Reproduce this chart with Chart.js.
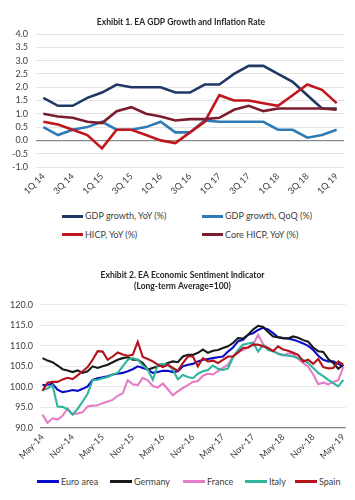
<!DOCTYPE html>
<html><head><meta charset="utf-8">
<script src="https://cdn.jsdelivr.net/npm/chart.js@4.4.1/dist/chart.umd.min.js"></script>
<style>
html,body{margin:0;padding:0;background:#fff;}
body{width:355px;height:500px;position:relative;overflow:hidden;font-family:Lato,"Open Sans",sans-serif;}
canvas{position:absolute;left:0;}
.lg{position:absolute;font-size:9px;color:#404040;white-space:nowrap;display:flex;align-items:center;height:12px;line-height:12px;}
.lg i{display:inline-block;width:21px;height:3px;margin-right:2px;}
</style></head><body>
<canvas id="c1" width="355" height="200" style="top:0"></canvas>
<canvas id="c2" width="355" height="215" style="top:255px"></canvas>
<div id="leg"></div>
<script>
// ---- Exhibit 1 data ----
const quarters = ['1Q 14','2Q 14','3Q 14','4Q 14','1Q 15','2Q 15','3Q 15','4Q 15','1Q 16','2Q 16','3Q 16','4Q 16','1Q 17','2Q 17','3Q 17','4Q 17','1Q 18','2Q 18','3Q 18','4Q 18','1Q 19'];
const gdpYoY   = [1.6,1.3,1.3,1.6,1.8,2.1,2.0,2.0,2.0,1.8,1.8,2.1,2.1,2.5,2.8,2.8,2.5,2.2,1.7,1.2,1.2];
const gdpQoQ   = [0.5,0.2,0.4,0.5,0.7,0.4,0.4,0.5,0.7,0.3,0.3,0.75,0.7,0.7,0.7,0.7,0.4,0.4,0.1,0.2,0.4];
const hicp     = [0.7,0.6,0.4,0.2,-0.3,0.4,0.4,0.2,0.0,-0.1,0.3,0.7,1.7,1.5,1.5,1.4,1.3,1.7,2.1,1.9,1.4];
const coreHicp = [1.0,0.9,0.85,0.7,0.65,1.1,1.25,1.0,0.9,0.75,0.8,0.8,0.85,1.15,1.3,1.1,1.2,1.2,1.2,1.2,1.15];
const yTicks1 = {min:-1, max:4, step:0.5};

// ---- Exhibit 2 data ----
const months = ['May-14','Jun-14','Jul-14','Aug-14','Sep-14','Oct-14','Nov-14','Dec-14',
 'Jan-15','Feb-15','Mar-15','Apr-15','May-15','Jun-15','Jul-15','Aug-15','Sep-15','Oct-15','Nov-15','Dec-15',
 'Jan-16','Feb-16','Mar-16','Apr-16','May-16','Jun-16','Jul-16','Aug-16','Sep-16','Oct-16','Nov-16','Dec-16',
 'Jan-17','Feb-17','Mar-17','Apr-17','May-17','Jun-17','Jul-17','Aug-17','Sep-17','Oct-17','Nov-17','Dec-17',
 'Jan-18','Feb-18','Mar-18','Apr-18','May-18','Jun-18','Jul-18','Aug-18','Sep-18','Oct-18','Nov-18','Dec-18',
 'Jan-19','Feb-19','Mar-19','Apr-19','May-19'];
const euroArea = [100.4,100.5,100.7,99.3,98.7,98.9,99.2,99.0,99.5,100.1,101.7,102.1,102.3,102.6,103.0,103.2,103.4,103.8,104.3,105.0,104.6,104.2,103.4,103.6,103.9,103.9,103.6,103.8,105.0,105.4,105.6,106.2,106.6,106.8,107.0,107.2,107.4,108.6,109.6,111.1,111.5,112.7,113.1,113.9,114.4,114.0,113.1,112.1,111.9,111.8,111.5,111.1,110.6,110.0,109.0,107.6,106.6,106.2,106.2,105.6,105.0];
const germany  = [107.0,106.4,106.0,105.2,104.3,104.0,103.6,104.0,103.4,103.8,105.0,104.6,105.0,105.4,106.0,106.6,107.0,107.2,106.6,106.6,105.8,104.2,104.6,105.0,105.4,105.8,106.2,106.0,107.4,107.8,107.8,108.3,109.1,108.3,108.8,109.0,109.5,109.9,110.7,111.9,111.8,112.7,114.0,114.9,114.6,113.4,112.3,112.1,111.9,111.8,112.3,112.0,111.4,111.0,109.6,108.7,108.5,106.8,105.8,104.4,105.4];
const france   = [93.2,91.2,92.3,92.0,92.9,94.7,93.3,93.5,93.8,95.2,95.4,95.5,96.0,96.4,96.8,97.8,98.4,101.6,100.6,100.4,102.2,101.6,100.2,99.8,100.8,99.4,97.9,98.9,99.7,100.4,101.2,101.4,102.7,103.2,103.0,103.8,104.6,105.4,107.4,108.4,109.0,109.6,110.3,112.7,110.4,109.4,108.8,108.2,107.6,108.2,108.0,106.8,105.8,104.9,103.0,100.6,101.0,100.6,101.2,101.6,104.8];
const italy    = [99.2,99.6,100.4,95.2,95.1,94.5,93.2,94.6,96.4,98.3,101.6,101.7,102.1,102.4,103.0,103.4,105.0,106.6,107.0,106.6,105.2,104.2,101.7,105.4,105.6,105.4,104.2,101.8,102.9,102.4,102.1,103.2,103.8,104.1,105.2,104.4,104.1,104.5,107.2,109.0,110.3,110.6,110.8,108.6,110.2,109.0,108.7,108.0,107.8,107.6,107.4,107.0,106.6,105.8,104.6,103.4,102.6,101.7,100.9,100.1,101.7];
const spain    = [99.0,101.0,101.2,101.2,101.8,102.2,101.9,102.8,103.8,104.8,106.6,108.7,108.6,106.6,107.4,108.4,107.9,107.6,107.8,111.0,107.3,106.8,106.2,105.4,104.8,105.4,104.6,103.9,105.8,107.4,107.4,105.0,107.0,106.2,106.4,105.8,106.6,107.4,107.4,108.4,109.5,109.6,110.3,110.3,109.9,109.5,108.7,109.9,109.1,108.8,108.3,107.8,106.2,106.6,105.6,106.8,104.8,104.5,104.6,106.2,105.4];
const yTicks2 = {min:90, max:120, step:5};

const FONT = 'Lato, "Open Sans", sans-serif';
const TXT = '#404040';
const tickFont = {family: FONT, size: 9};

const series1 = [
  {label:'GDP growth, YoY (%)', data:gdpYoY, color:'#1F3864', order:4},
  {label:'GDP growth, QoQ (%)', data:gdpQoQ, color:'#2E7BB6', order:3},
  {label:'HICP, YoY (%)', data:hicp, color:'#C0161E', order:2},
  {label:'Core HICP, YoY (%)', data:coreHicp, color:'#7B1D2C', order:1}
];
const series2 = [
  {label:'Euro area', data:euroArea, color:'#0A0ACB', order:5},
  {label:'Germany', data:germany, color:'#1A1A1A', order:4},
  {label:'France', data:france, color:'#E57CC8', order:3},
  {label:'Italy', data:italy, color:'#2FB49C', order:2},
  {label:'Spain', data:spain, color:'#B3121A', order:1}
];

// invisible right-hand spacer axis (only used to centre the title like the reference)
function spacer(w){
  return {position:'right', display:true, grid:{display:false, drawTicks:false}, border:{display:false},
    ticks:{display:false}, afterFit:s=>{s.width=w;}};
}

new Chart(document.getElementById('c1'), {
  type:'line',
  data:{labels:quarters, datasets: series1.map(s=>({label:s.label, data:s.data, borderColor:s.color, backgroundColor:s.color, order:s.order, borderWidth:2.6, pointRadius:0, tension:0, fill:false}))},
  options:{
    responsive:false, animation:false,
    layout:{padding:{left:12,right:5,top:0,bottom:0}},
    plugins:{legend:{display:false}, tooltip:{enabled:false},
      title:{display:true, text:'Exhibit 1. EA GDP Growth and Inflation Rate', color:'#262626',
        font:{family:FONT, size:8.5, weight:'bold', lineHeight:1.2}, padding:{top:17,bottom:6.8}}},
    scales:{
      x:{offset:true, grid:{display:false, drawTicks:false}, border:{display:false},
        ticks:{autoSkip:false, minRotation:45, maxRotation:45, padding:4, font:tickFont, color:TXT,
          callback:(v,i)=> i%2===0 ? quarters[i] : null},
        afterFit:s=>{s.height=33;}},
      y:{min:yTicks1.min, max:yTicks1.max, border:{display:false},
        ticks:{stepSize:yTicks1.step, autoSkip:false, padding:8, font:tickFont, color:TXT, callback:v=>Number(v).toFixed(1)},
        grid:{drawTicks:false, color:c=> (c.tick && c.tick.value===0) ? '#8a8a8a' : '#dcdcdc', lineWidth:c=> (c.tick && c.tick.value===0) ? 1.3 : 0.8},
        afterFit:s=>{s.width=24;}},
      yR: spacer(6)
    }
  }
});

new Chart(document.getElementById('c2'), {
  type:'line',
  data:{labels:months, datasets: series2.map(s=>({label:s.label, data:s.data, borderColor:s.color, backgroundColor:s.color, order:s.order, borderWidth:2.1, pointRadius:0, tension:0, fill:false}))},
  options:{
    responsive:false, animation:false,
    layout:{padding:{left:10,right:0,top:0,bottom:0}},
    plugins:{legend:{display:false}, tooltip:{enabled:false},
      title:{display:true, text:['Exhibit 2. EA Economic Sentiment Indicator','(Long-term Average=100)'], color:'#262626',
        font:{family:FONT, size:8.5, weight:'bold', lineHeight:1.38}, padding:{top:14.1,bottom:12.4}}},
    scales:{
      x:{offset:true, grid:{display:false, drawTicks:false}, border:{display:false},
        ticks:{autoSkip:false, minRotation:45, maxRotation:45, padding:4, font:tickFont, color:TXT,
          callback:(v,i)=> i%6===0 ? months[i] : null},
        afterFit:s=>{s.height=42.3;}},
      y:{min:yTicks2.min, max:yTicks2.max, border:{display:false},
        ticks:{stepSize:yTicks2.step, autoSkip:false, padding:7, font:tickFont, color:TXT, callback:v=>Number(v).toFixed(1)},
        grid:{drawTicks:false, color:c=> (c.tick && c.tick.value===90) ? '#7f7f7f' : '#e3e3e3', lineWidth:c=> (c.tick && c.tick.value===90) ? 1.3 : 0.8},
        afterFit:s=>{s.width=30;}},
      yR: spacer(9)
    }
  }
});

// HTML legends
const legPos1 = [[62,210],[202,210],[62,228.5],[202,228.5]];
const legPos2 = [[37,475.5],[110,475.5],[183,475.5],[245,475.5],[295,475.5]];
const leg = document.getElementById('leg');
function addLeg(list, pos, w){
  list.forEach((s,i)=>{
    const d = document.createElement('div');
    d.className='lg'; d.style.left=pos[i][0]+'px'; d.style.top=pos[i][1]+'px';
    const ln = document.createElement('i'); ln.style.background=s.color; ln.style.width=w+'px';
    d.appendChild(ln); d.appendChild(document.createTextNode(s.label));
    leg.appendChild(d);
  });
}
addLeg(series1, legPos1, 21);
addLeg(series2, legPos2, 22);
</script>
</body></html>
